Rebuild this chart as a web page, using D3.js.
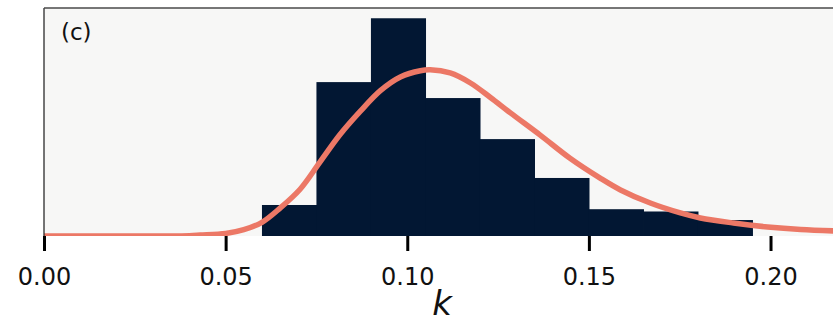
<!DOCTYPE html>
<html>
<head>
<meta charset="utf-8">
<script src="https://cdn.jsdelivr.net/npm/d3@7"></script>
<style>
  body { margin: 0; background: #fff; }
  text { font-family: "DejaVu Sans", sans-serif; }
</style>
</head>
<body>
<div id="vis"></div>
<script>
// histogram bins (left edges) and density heights
var binEdges = [0.060, 0.075, 0.090, 0.105, 0.120, 0.135, 0.150, 0.165, 0.180, 0.195];
var binDensity = [2.72, 13.5, 19.1, 12.1, 8.5, 5.09, 2.35, 2.15, 1.40];

// fitted curve
var fitK = [0.000, 0.029, 0.040, 0.043, 0.050, 0.055, 0.060, 0.065, 0.0705, 0.076, 0.0815, 0.0871,
            0.0926, 0.0981, 0.1036, 0.1063, 0.1118, 0.1174, 0.1229, 0.1284, 0.1366, 0.1449,
            0.1531, 0.1587, 0.1669, 0.1752, 0.1807, 0.1898, 0.1992, 0.2083, 0.2200];
var fitDensity = [0.00, 0.00, 0.03, 0.08, 0.22, 0.55, 1.20, 2.45, 4.10, 6.50, 8.90, 10.95,
                  12.75, 13.95, 14.50, 14.58, 14.30, 13.42, 12.15, 10.80, 8.85, 6.80,
                  5.08, 4.04, 2.89, 2.02, 1.58, 1.14, 0.79, 0.57, 0.42];

var xTicks = [0.00, 0.05, 0.10, 0.15, 0.20];

var W = 833, H = 323;
var margin = {top: 8, left: 44, bottom: 236, right: 833};

var svg = d3.select("#vis").append("svg")
    .attr("width", W)
    .attr("height", H);

var x = d3.scaleLinear()
    .domain([0, 0.2172])
    .range([margin.left, margin.right]);

var y = d3.scaleLinear()
    .domain([0, 20])
    .range([margin.bottom, margin.top]);

svg.append("defs").append("clipPath")
    .attr("id", "plotclip")
    .append("rect")
    .attr("x", margin.left)
    .attr("y", margin.top)
    .attr("width", margin.right - margin.left)
    .attr("height", margin.bottom - margin.top);

// axes background
svg.append("rect")
    .attr("x", margin.left)
    .attr("y", margin.top)
    .attr("width", margin.right - margin.left)
    .attr("height", margin.bottom - margin.top)
    .attr("fill", "#f7f7f6");

var plot = svg.append("g").attr("clip-path", "url(#plotclip)");

// bars
plot.selectAll(".bar")
    .data(binDensity)
    .enter().append("rect")
    .attr("class", "bar")
    .attr("x", function(d, i) { return x(binEdges[i]); })
    .attr("width", function(d, i) { return x(binEdges[i + 1]) - x(binEdges[i]) + 0.6; })
    .attr("y", function(d) { return y(d); })
    .attr("height", function(d) { return y(0) - y(d); })
    .attr("fill", "#021733");

// fitted curve
var line = d3.line()
    .x(function(d) { return x(d[0]); })
    .y(function(d) { return y(d[1]); })
    .curve(d3.curveCatmullRom.alpha(0.5));

plot.append("path")
    .datum(fitK.map(function(k, i) { return [k, fitDensity[i]]; }))
    .attr("d", line)
    .attr("fill", "none")
    .attr("stroke", "#ec7866")
    .attr("stroke-width", 5.5)
    .attr("stroke-linejoin", "round");

// spines: left and top
svg.append("line")
    .attr("x1", margin.left).attr("x2", margin.left)
    .attr("y1", margin.top).attr("y2", margin.bottom)
    .attr("stroke", "#2b2b2b").attr("stroke-width", 1.3);
svg.append("line")
    .attr("x1", margin.left).attr("x2", margin.right)
    .attr("y1", margin.top).attr("y2", margin.top)
    .attr("stroke", "#4a4a4a").attr("stroke-width", 1.3);

// x axis
var xAxis = d3.axisBottom(x)
    .tickValues(xTicks)
    .tickFormat(d3.format(".2f"))
    .tickSize(15)
    .tickPadding(17);

var gx = svg.append("g")
    .attr("transform", "translate(0," + margin.bottom + ")")
    .call(xAxis);
gx.select(".domain").remove();
gx.selectAll(".tick line")
    .attr("stroke", "#000")
    .attr("stroke-width", 3);
gx.selectAll(".tick text")
    .attr("fill", "#111")
    .style("font-size", "24px")
    .style("font-family", "DejaVu Sans");

// axis label
svg.append("text")
    .attr("x", 442)
    .attr("y", 315)
    .attr("text-anchor", "middle")
    .style("font-size", "34px")
    .style("font-style", "italic")
    .attr("fill", "#111")
    .text("k");

// panel label
svg.append("text")
    .attr("x", 61)
    .attr("y", 40)
    .style("font-size", "23px")
    .attr("fill", "#111")
    .text("(c)");
</script>
</body>
</html>
